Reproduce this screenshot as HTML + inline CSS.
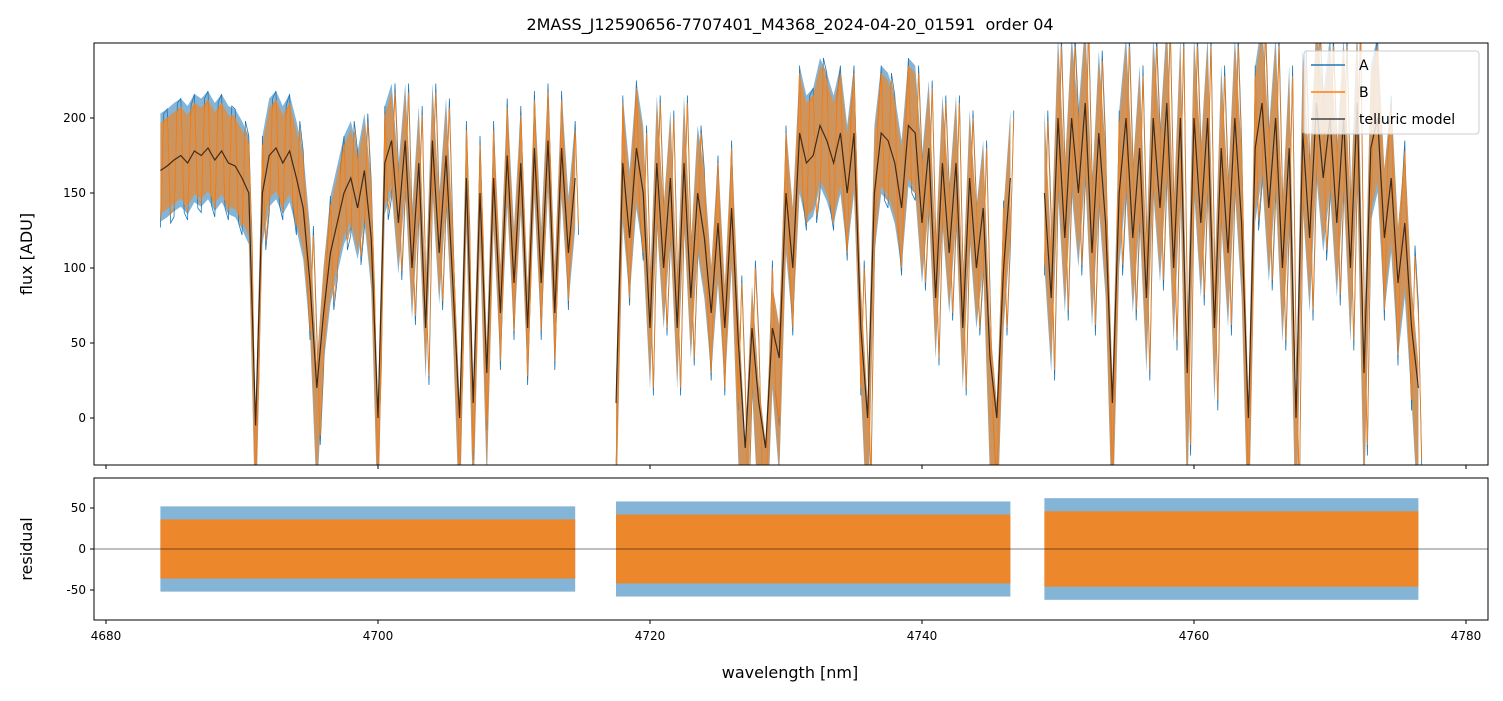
<!DOCTYPE html>
<html><head><meta charset="utf-8">
<style>
body{margin:0;background:#fff;font-family:"Liberation Sans","DejaVu Sans",sans-serif;}
svg text{font-family:"DejaVu Sans","Liberation Sans",sans-serif;}
</style></head>
<body>
<svg id="chart" width="1503" height="696" xmlns="http://www.w3.org/2000/svg">
<defs>
<clipPath id="ct"><rect x="94" y="43" width="1394" height="422"/></clipPath>
<clipPath id="cb"><rect x="94" y="478" width="1394" height="142"/></clipPath>
</defs>
<text x="790" y="30" font-size="16" text-anchor="middle">2MASS_J12590656-7707401_M4368_2024-04-20_01591&#160; order 04</text>
<g id="topg" clip-path="url(#ct)"></g>
<g id="botg" clip-path="url(#cb)"></g>
<rect x="94" y="43" width="1394" height="422" fill="none" stroke="#000" stroke-width="1"/>
<rect x="94" y="478" width="1394" height="142" fill="none" stroke="#000" stroke-width="1"/>
<g id="axes"></g>
<text transform="translate(32,254) rotate(-90)" font-size="16" text-anchor="middle">flux [ADU]</text>
<text transform="translate(32,549) rotate(-90)" font-size="16" text-anchor="middle">residual</text>
<text x="790" y="678" font-size="16" text-anchor="middle">wavelength [nm]</text>
<g id="legend">
<rect x="1304" y="51" width="175" height="83" rx="3" fill="#fff" fill-opacity="0.8" stroke="#ccc"/>
<line x1="1311" y1="65" x2="1345" y2="65" stroke="#1f77b4" stroke-width="1.5"/>
<text x="1359" y="70" font-size="14">A</text>
<line x1="1311" y1="92" x2="1345" y2="92" stroke="#ff7f0e" stroke-width="1.5"/>
<text x="1359" y="97" font-size="14">B</text>
<line x1="1311" y1="119" x2="1345" y2="119" stroke="#444" stroke-width="1.5"/>
<text x="1359" y="124" font-size="14">telluric model</text>
</g>
</svg>
<script>
const segStart=[4684,4717.5,4749];
const step=0.5;
const model1=[165,168,172,175,170,178,175,180,172,178,170,168,160,150,-5,150,175,180,170,178,160,140,90,20,70,110,130,150,160,140,165,120,0,170,185,130,185,100,170,60,185,110,175,90,0,160,10,150,30,160,70,175,90,170,60,180,90,185,70,180,110,160];
const model2=[10,170,120,180,150,60,170,100,160,60,170,80,150,120,70,130,60,140,50,-20,60,10,-20,60,40,150,100,190,170,175,195,185,170,190,150,190,60,0,150,190,185,170,140,195,190,130,180,80,170,110,170,60,160,100,140,40,0,100,160];
const model3=[150,80,200,120,200,150,210,110,190,130,10,150,200,120,180,80,200,140,210,100,200,30,200,130,200,60,180,110,200,130,0,180,210,140,200,100,180,0,190,120,210,160,200,130,200,100,210,30,180,200,120,160,90,130,60,20];
const models=[model1,model2,model3];
const aSpread=[38,45,55];
const bSpread=[32,40,48];
const residA=[52,58,62];
const residB=[36,42,46];
const xTicks=[4680,4700,4720,4740,4760,4780];
const yTicks=[0,50,100,150,200];
const rTicks=[-50,0,50];

const NS='http://www.w3.org/2000/svg';
const X=w=>106+(w-4680)*13.6;
const Y=v=>418-v*1.5;
const R=v=>549-v*0.82;
const topG=document.getElementById('topg'),botG=document.getElementById('botg'),axesG=document.getElementById('axes');
function mk(tag,at,parent){const e=document.createElementNS(NS,tag);for(const k in at)e.setAttribute(k,at[k]);parent.appendChild(e);return e;}

models.forEach((m,s)=>{
  const w=i=>segStart[s]+i*step;
  [['a',aSpread[s],'#1f77b4',0.55],['b',bSpread[s],'#ff7f0e',0.6]].forEach(([nm,sp,col,op])=>{
    let up=m.map((v,i)=>X(w(i))+','+Y(Math.min(v+sp,v*1.3+10))).join(' ');
    let lo=m.slice().reverse().map((v,j)=>X(w(m.length-1-j))+','+Y(v-sp*0.9-(v<60?40:0))).join(' ');
    const band=mk('polygon',{points:up+' '+lo,fill:col,'fill-opacity':op},topG);
    
    
    let zz=m.map((v,i)=>{const k=i%2?1:-1;return X(w(i))+','+Y(v+k*sp)+' '+X(w(i)+step/2)+','+Y(v-k*sp);}).join(' ');
    const line=mk('polyline',{points:zz,fill:'none',stroke:col,'stroke-width':0.8},topG);
    
    
  });
  const ml=mk('polyline',{points:m.map((v,i)=>X(w(i))+','+Y(v)).join(' '),fill:'none',stroke:'#000','stroke-opacity':0.7,'stroke-width':1.2},topG);
  
  
  const x0=X(segStart[s]),x1=X(segStart[s]+(m.length-1)*step);
  [['a',residA[s],'#1f77b4',0.55],['b',residB[s],'#ff7f0e',0.85]].forEach(([nm,sp,col,op])=>{
    const r=mk('rect',{x:x0,y:R(sp),width:x1-x0,height:R(-sp)-R(sp),fill:col,'fill-opacity':op},botG);
    
    
  });
});
const zl=mk('line',{x1:94,x2:1488,y1:R(0),y2:R(0),stroke:'#000','stroke-width':0.5},botG);



document.getElementById('chart').appendChild(document.getElementById('legend'));

xTicks.forEach(t=>{
  [465,620].forEach(yy=>{const l=mk('line',{x1:X(t),x2:X(t),y1:yy,y2:yy+4,stroke:'#000'},axesG);
    
    });
  const tx=mk('text',{x:X(t),y:640,'font-size':12,'text-anchor':'middle'},axesG);tx.textContent=t;
  
  
});
yTicks.forEach(t=>{
  const l=mk('line',{x1:90,x2:94,y1:Y(t),y2:Y(t),stroke:'#000'},axesG);
  
  
  const tx=mk('text',{x:86,y:Y(t)+4,'font-size':12,'text-anchor':'end'},axesG);tx.textContent=t;
  
  
});
rTicks.forEach(t=>{
  const l=mk('line',{x1:90,x2:94,y1:R(t),y2:R(t),stroke:'#000'},axesG);
  
  
  const tx=mk('text',{x:86,y:R(t)+4,'font-size':12,'text-anchor':'end'},axesG);tx.textContent=t;
  
  
});
</script>
</body></html>
